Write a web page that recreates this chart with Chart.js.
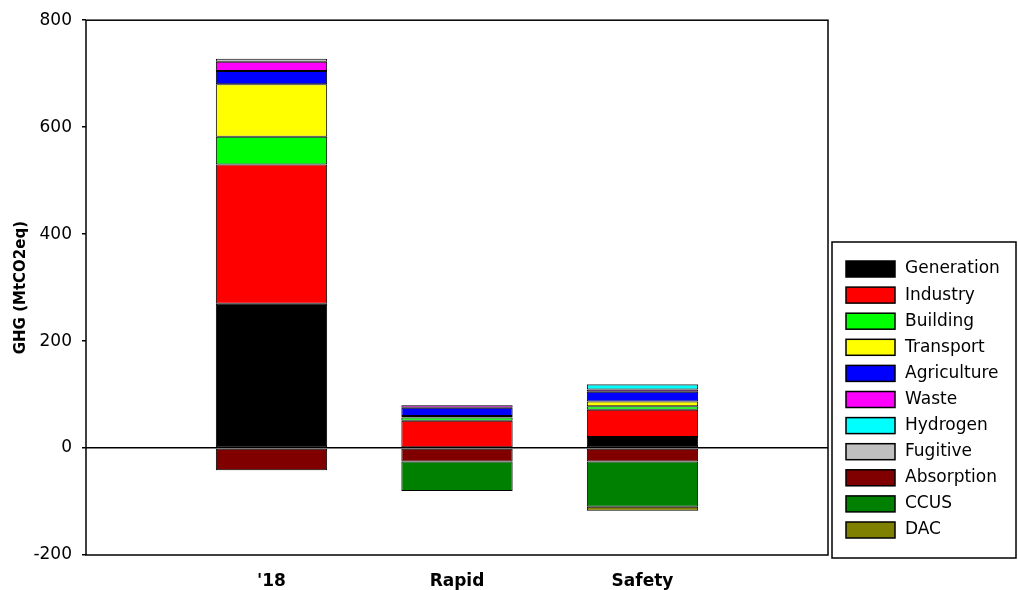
<!DOCTYPE html>
<html>
<head>
<meta charset="utf-8">
<title>GHG</title>
<script src="https://cdn.jsdelivr.net/npm/chart.js@4.4.1/dist/chart.umd.min.js"></script>
<style>
  html, body { margin: 0; padding: 0; background: #fff; }
  #wrap { width: 1018px; height: 590px; }
</style>
</head>
<body>
<div id="wrap"><canvas id="graficoGHG"></canvas></div>
<script>
// Categories (empty slots at both ends keep the spacing of the original)
const categories = ["'18", 'Rapid', 'Safety'];

// Emissions by sector (MtCO2eq)
const generation = [269.6, 0, 20.7];
const industry = [260.5, 51.1, 51.1];
const building = [52.1, 6.2, 6.2];
const transport = [98.1, 2.8, 9.2];
const agriculture = [24.7, 15.4, 18.0];
const waste = [17.1, 4.4, 4.4];
const hydrogen = [0, 0, 9.0];
const fugitive = [5.6, 0.5, 1.3];
const absorption = [-41.3, -25.3, -25.3];
const ccus = [0, -55.1, -84.6];
const dac = [0, 0, -7.4];

const yTicks = [-200, 0, 200, 400, 600, 800];

const series = [
    ['Generation', generation, '#000000'],
    ['Industry', industry, '#ff0000'],
    ['Building', building, '#00ff00'],
    ['Transport', transport, '#ffff00'],
    ['Agriculture', agriculture, '#0000ff'],
    ['Waste', waste, '#ff00ff'],
    ['Hydrogen', hydrogen, '#00ffff'],
    ['Fugitive', fugitive, '#c0c0c0'],
    ['Absorption', absorption, '#800000'],
    ['CCUS', ccus, '#008000'],
    ['DAC', dac, '#808000']
];

const labels = [''].concat(categories, ['']);

const datasets = series.map(s => ({
    label: s[0],
    data: [null].concat(s[1], [null]),
    backgroundColor: s[2],
    borderColor: '#000',
    borderWidth: 1,
    borderSkipped: false,
    categoryPercentage: 1,
    barPercentage: 0.6
}));

// frame around the plot + legend box on the right
const framePlugin = {
    id: 'frame',
    afterDraw(chart) {
        const c = chart.ctx;
        const a = chart.chartArea;
        c.save();
        c.strokeStyle = '#000';
        c.lineWidth = 1.5;
        c.strokeRect(a.left, a.top, a.right - a.left, a.bottom - a.top);

        // legend
        const lx = a.right + 4, ly = 242, lw = 184, lh = 316;
        c.strokeRect(lx, ly, lw, lh);
        c.font = '17px "DejaVu Sans"';
        c.textBaseline = 'middle';
        c.textAlign = 'left';
        chart.data.datasets.forEach((ds, i) => {
            const y = ly + 19 + i * 26.1;
            c.fillStyle = ds.backgroundColor;
            c.fillRect(lx + 14, y, 49, 16);
            c.lineWidth = 1.5;
            c.strokeStyle = '#000';
            c.strokeRect(lx + 14, y, 49, 16);
            c.fillStyle = '#000';
            c.fillText(ds.label, lx + 73, y + 8);
        });
        c.restore();
    }
};

const config = {
    type: 'bar',
    data: { labels: labels, datasets: datasets },
    options: {
        responsive: true,
        maintainAspectRatio: false,
        animation: false,
        layout: { padding: { top: 20, right: 190, bottom: 0, left: 0 } },
        plugins: {
            legend: { display: false },
            tooltip: { enabled: false }
        },
        scales: {
            x: {
                stacked: true,
                offset: false,
                grid: { display: false },
                border: { display: false },
                ticks: {
                    color: '#000',
                    padding: 8,
                    font: { family: 'DejaVu Sans', size: 17, weight: 'bold' }
                },
                afterFit(scale) { scale.height = 35; }
            },
            y: {
                stacked: true,
                min: -200,
                max: 800,
                afterBuildTicks(scale) {
                    scale.ticks = yTicks.map(v => ({ value: v }));
                },
                grid: {
                    color: ctx => (ctx.tick && ctx.tick.value === 0) ? '#000' : 'rgba(0,0,0,0)',
                    lineWidth: 1.5,
                    tickColor: '#000',
                    tickLength: 4
                },
                border: { display: false },
                ticks: {
                    color: '#000',
                    padding: 10,
                    font: { family: 'DejaVu Sans', size: 17 }
                },
                title: {
                    display: true,
                    text: 'GHG (MtCO2eq)',
                    color: '#000',
                    padding: { top: 12, bottom: 0 },
                    font: { family: 'DejaVu Sans', size: 15, weight: 'bold' }
                },
                afterFit(scale) { scale.width = 86; }
            }
        }
    },
    plugins: [framePlugin]
};

const ctx = document.getElementById('graficoGHG').getContext('2d');
new Chart(ctx, config);
</script>
</body>
</html>
